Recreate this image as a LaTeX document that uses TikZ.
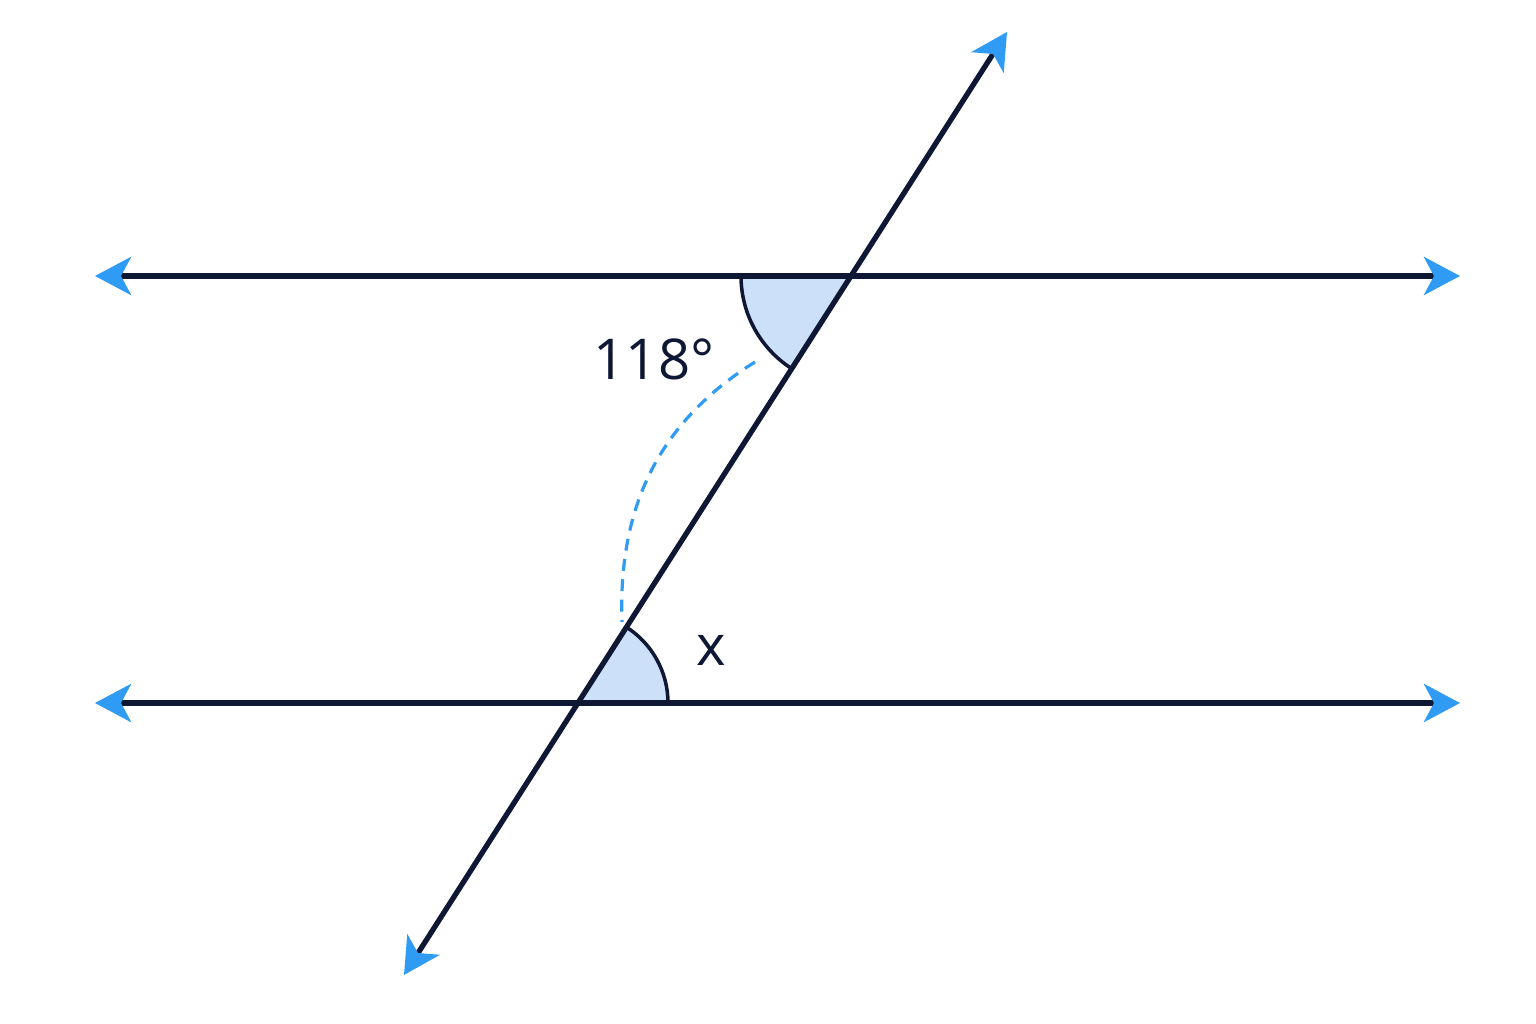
\documentclass[tikz,border=0pt]{standalone}
\usepackage{fontspec}
\setmainfont{Open Sans}
\usetikzlibrary{arrows.meta}
\definecolor{lineink}{HTML}{0E1733}
\definecolor{tipblue}{HTML}{2F9BF5}
\definecolor{anglefill}{HTML}{CCE0FA}
\begin{document}
\begin{tikzpicture}
[x=0.01cm,y=0.01cm,
line/.style={draw=lineink,line width=1.5pt,<->,
  >={Stealth[length=0.36cm,width=0.38cm,inset=0.1cm,color=tipblue]}},
anglearc/.style={draw=lineink,line width=1pt},
guide/.style={draw=tipblue,line width=0.9pt,dash pattern=on 3.4pt off 2.4pt},
label text/.style={text=lineink,font=\fontsize{16}{19}\selectfont,inner sep=0pt}]
\useasboundingbox (0,0) rectangle (1536,1024);
\fill[white] (0,0) rectangle (1536,1024);
% points of the two parallels and the transversal
\coordinate (L1) at (95,748);
\coordinate (R1) at (1460,748);
\coordinate (L2) at (95,321);
\coordinate (R2) at (1460,321);
\coordinate (T) at (851,748);
\coordinate (B) at (578,321);
\coordinate (Up) at (1007,992);
\coordinate (Down) at (404,49);
% angle sectors
\fill[anglefill] (T) -- ++(180:110) arc (180:237.4:110) -- cycle;
\fill[anglefill] (B) -- ++(0:90) arc (0:57.4:90) -- cycle;
\draw[anglearc] (T) ++(180:110) arc (180:237.4:110);
\draw[anglearc] (B) ++(0:90) arc (0:57.4:90);
% lines
\draw[line] (L1) -- (R1);
\draw[line] (L2) -- (R2);
\draw[line] (Down) -- (Up);
% dashed guide
\coordinate (G1) at (755,662);
\coordinate (G2) at (622,402);
\draw[guide] (G1) to[out=212,in=92] (G2);
\node[label text] (a118) at (654,665) {118°};
\node[label text] (ax) at (711,374) {x};
\end{tikzpicture}
\end{document}
